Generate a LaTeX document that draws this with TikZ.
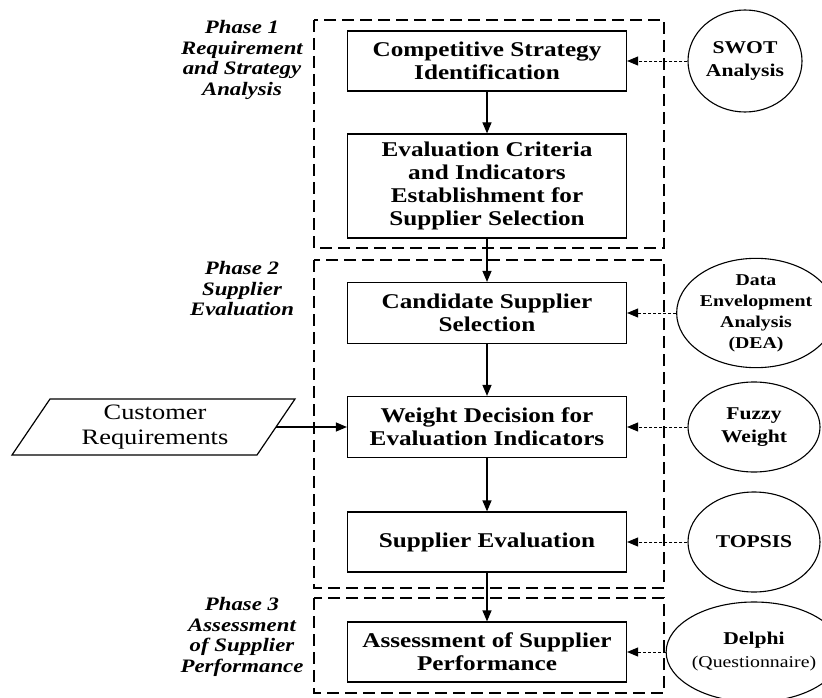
\documentclass[tikz,border=0pt]{standalone}
\usepackage{fontspec}
\setmainfont{Liberation Serif}[FakeStretch=1.2]
\usetikzlibrary{shapes.geometric,arrows.meta}
\begin{document}
\begin{tikzpicture}[x=1pt,y=-1pt,
  stepbox/.style={draw,line width=1.2pt,minimum width=279pt,align=center,inner sep=0pt,
    font=\bfseries\fontsize{21}{23}\selectfont},
  phasebox/.style={draw,line width=1.1pt,dash pattern=on 12pt off 6pt},
  tool/.style={draw,ellipse,line width=1.1pt,minimum width=132pt,minimum height=100pt,inner sep=0pt,align=center,
    font=\bfseries\fontsize{18}{23}\selectfont},
  phaselabel/.style={align=center,font=\bfseries\itshape\fontsize{19}{20.5}\selectfont},
  flow/.style={line width=1.2pt,-{Triangle[length=11pt,width=9pt]}},
  aux/.style={line width=0.9pt,dash pattern=on 3pt off 2pt,-{Triangle[length=11pt,width=9pt]}}]
\useasboundingbox (0,0) rectangle (822,698);
% phase regions
\draw[phasebox] (314,20) rectangle (664,248);
\draw[phasebox] (314,260) rectangle (664,588);
\draw[phasebox] (314,598) rectangle (664,693);
% phase labels
\node[phaselabel] (p1) at (242,60) {Phase 1\\Requirement\\and Strategy\\Analysis};
\node[phaselabel] (p2) at (242,289) {Phase 2\\Supplier\\Evaluation};
\node[phaselabel] (p3) at (242,637) {Phase 3\\Assessment\\of Supplier\\Performance};
% steps
\node[stepbox,minimum height=60pt] (cs) at (487,61) {Competitive Strategy\\Identification};
\node[stepbox,minimum height=104pt] (ec) at (487,186) {Evaluation Criteria\\and Indicators\\Establishment for\\Supplier Selection};
\node[stepbox,minimum height=61pt] (css) at (487,313) {Candidate Supplier\\Selection};
\node[stepbox,minimum height=61pt] (wd) at (487,427) {Weight Decision for\\Evaluation Indicators};
\node[stepbox,minimum height=60pt] (se) at (487,542) {Supplier Evaluation};
\node[stepbox,minimum height=60pt] (asp) at (487,652) {Assessment of Supplier\\Performance};
% tools
\node[tool,minimum width=114pt,minimum height=102pt] (swot) at (745,61) {SWOT\\Analysis};
\node[tool,minimum height=98pt,font=\bfseries\fontsize{16.5}{21}\selectfont] (dea) at (756,313) {Data\\Envelopment\\Analysis\\(DEA)};
\node[tool,minimum height=90pt] (fz) at (754,427) {Fuzzy\\Weight};
\node[tool] (tp) at (754,542) {TOPSIS};
\node[tool] (dp) at (754,652) {Delphi\\{\mdseries\fontsize{16.5}{21}\selectfont(Questionnaire)}};
% customer requirements
\draw[line width=1.2pt] (50,399) -- (295,399) -- (257,455) -- (12,455) -- cycle;
\node[align=center,font=\fontsize{22}{25}\selectfont] (cr) at (155,427) {Customer\\Requirements};
\coordinate (crR) at (276,427);
% flow
\draw[flow] (cs) -- (ec);
\draw[flow] (ec) -- (css);
\draw[flow] (css) -- (wd);
\draw[flow] (wd) -- (se);
\draw[flow] (se) -- (asp);
\draw[flow] (crR) -- (wd.west);
% tool links
\draw[aux] (swot.west) -- (cs.east);
\draw[aux] (dea.west) -- (css.east);
\draw[aux] (fz.west) -- (wd.east);
\draw[aux] (tp.west) -- (se.east);
\draw[aux] (dp.west) -- (asp.east);
\end{tikzpicture}
\end{document}
